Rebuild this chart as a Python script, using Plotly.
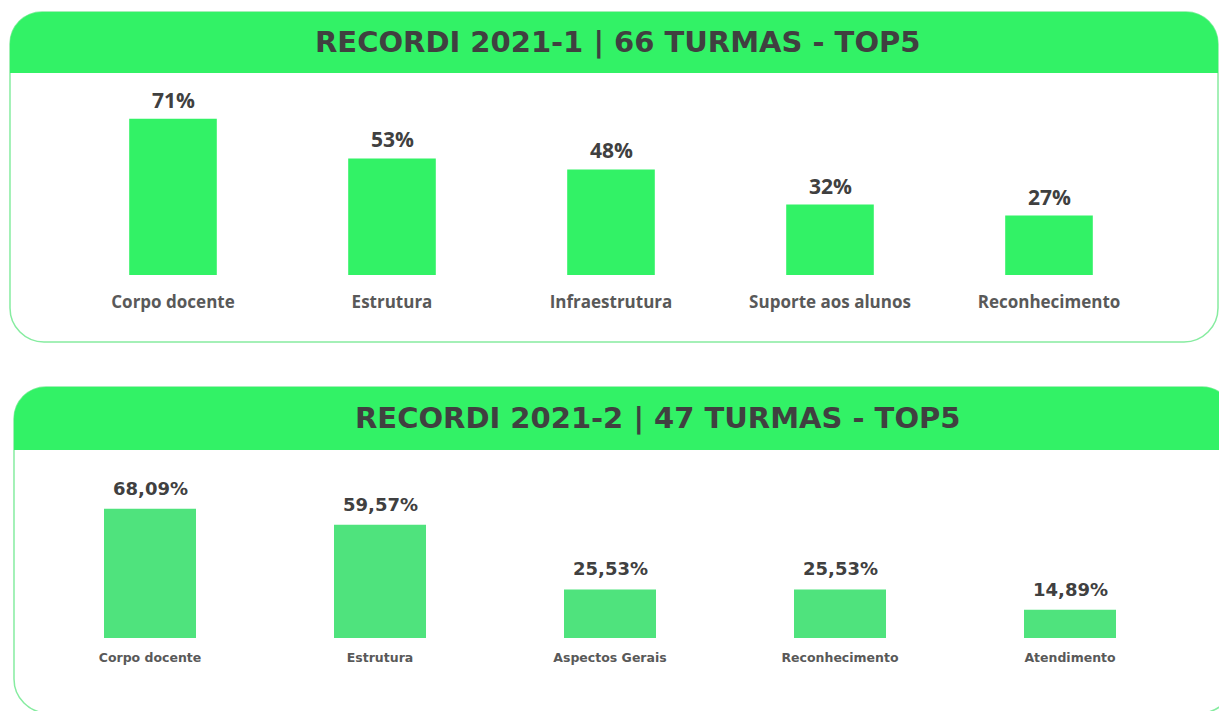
import plotly.graph_objects as go

# dados
categorias_1 = ["Corpo docente", "Estrutura", "Infraestrutura", "Suporte aos alunos", "Reconhecimento"]
valores_1 = [71, 53, 48, 32, 27]
titulo_1 = "RECORDI 2021-1 | 66 TURMAS - TOP5"

categorias_2 = ["Corpo docente", "Estrutura", "Aspectos Gerais", "Reconhecimento", "Atendimento"]
valores_2 = [68.09, 59.57, 25.53, 25.53, 14.89]
titulo_2 = "RECORDI 2021-2 | 47 TURMAS - TOP5"

W, H = 1219, 711
VERDE = "#32F266"
VERDE_BARRA_2 = "#4FE37D"
CONTORNO = "#86ECA0"
TEXTO = "#404040"
TEXTO_CAT = "#595959"


def px(x):
    return x / W


def py(y):
    return 1 - y / H


K = 0.5523


def rounded_path(x0, y0, x1, y1, r_top, r_bottom):
    """Retângulo com cantos arredondados, em pixels -> coordenadas paper."""
    pts = []
    pts.append(f"M {px(x0 + r_top)},{py(y0)}")
    pts.append(f"L {px(x1 - r_top)},{py(y0)}")
    if r_top:
        pts.append(
            f"C {px(x1 - r_top + K * r_top)},{py(y0)} {px(x1)},{py(y0 + r_top - K * r_top)} {px(x1)},{py(y0 + r_top)}"
        )
    pts.append(f"L {px(x1)},{py(y1 - r_bottom)}")
    if r_bottom:
        pts.append(
            f"C {px(x1)},{py(y1 - r_bottom + K * r_bottom)} {px(x1 - r_bottom + K * r_bottom)},{py(y1)} {px(x1 - r_bottom)},{py(y1)}"
        )
    pts.append(f"L {px(x0 + r_bottom)},{py(y1)}")
    if r_bottom:
        pts.append(
            f"C {px(x0 + r_bottom - K * r_bottom)},{py(y1)} {px(x0)},{py(y1 - r_bottom + K * r_bottom)} {px(x0)},{py(y1 - r_bottom)}"
        )
    pts.append(f"L {px(x0)},{py(y0 + r_top)}")
    if r_top:
        pts.append(
            f"C {px(x0)},{py(y0 + r_top - K * r_top)} {px(x0 + r_top - K * r_top)},{py(y0)} {px(x0 + r_top)},{py(y0)}"
        )
    pts.append("Z")
    return " ".join(pts)


def painel(x0, y0, x1, y_head, y1):
    return [
        dict(type="path", xref="paper", yref="paper", layer="below",
             path=rounded_path(x0, y0, x1, y1, 32, 34),
             fillcolor="white", line=dict(color=CONTORNO, width=1.5)),
        dict(type="path", xref="paper", yref="paper", layer="below",
             path=rounded_path(x0, y0, x1, y_head, 32, 0),
             fillcolor=VERDE, line=dict(width=0)),
    ]


fig = go.Figure()

fig.add_trace(go.Bar(
    x=categorias_1, y=valores_1, xaxis="x", yaxis="y",
    marker=dict(color=VERDE, line=dict(width=0)),
    showlegend=False, hoverinfo="x+y",
))
fig.add_trace(go.Bar(
    x=categorias_2, y=valores_2, xaxis="x2", yaxis="y2",
    marker=dict(color=VERDE_BARRA_2, line=dict(width=0)),
    showlegend=False, hoverinfo="x+y",
))

annotations = []
for c, v in zip(categorias_1, valores_1):
    annotations.append(dict(
        x=c, y=v, xref="x", yref="y", text=f"{v}%", showarrow=False,
        yanchor="bottom", yshift=3,
        font=dict(family="Open Sans", size=21, color=TEXTO, weight="bold"),
    ))
for c, v in zip(categorias_2, valores_2):
    annotations.append(dict(
        x=c, y=v, xref="x2", yref="y2", text=f"{v:.2f}".replace(".", ",") + "%",
        showarrow=False, yanchor="bottom", yshift=8,
        font=dict(family="DejaVu Sans", size=18, color=TEXTO, weight="bold"),
    ))

annotations.append(dict(
    x=px(617), y=py(42), xref="paper", yref="paper", text=titulo_1, showarrow=False,
    xanchor="center", yanchor="middle",
    font=dict(family="DejaVu Sans", size=29, color=TEXTO, weight="bold"),
))
annotations.append(dict(
    x=px(658), y=py(418), xref="paper", yref="paper", text=titulo_2, showarrow=False,
    xanchor="center", yanchor="middle",
    font=dict(family="DejaVu Sans", size=29, color=TEXTO, weight="bold"),
))

fig.update_layout(
    width=W, height=H,
    margin=dict(l=0, r=0, t=0, b=0),
    paper_bgcolor="white", plot_bgcolor="rgba(0,0,0,0)",
    bargap=0.6,
    shapes=painel(10, 12, 1218, 73, 342) + painel(14, 387, 1234, 450, 713),
    annotations=annotations,
    xaxis=dict(
        domain=[px(63.5), px(1158.5)], anchor="y",
        showline=False, showgrid=False, zeroline=False,
        ticks="outside", ticklen=12, tickcolor="rgba(0,0,0,0)",
        tickfont=dict(family="Open Sans", size=17, color=TEXTO_CAT, weight="bold"),
        fixedrange=True,
    ),
    yaxis=dict(
        domain=[py(275), py(99)], anchor="x", range=[0, 80],
        visible=False, fixedrange=True,
    ),
    xaxis2=dict(
        domain=[px(35), px(1185)], anchor="y2",
        showline=False, showgrid=False, zeroline=False,
        ticks="outside", ticklen=8, tickcolor="rgba(0,0,0,0)",
        tickfont=dict(family="DejaVu Sans", size=12.5, color=TEXTO_CAT, weight="bold"),
        fixedrange=True,
    ),
    yaxis2=dict(
        domain=[py(638), py(486)], anchor="x2", range=[0, 80],
        visible=False, fixedrange=True,
    ),
)

fig.write_html(
    "out.html",
    config={"displayModeBar": False},
    post_script="document.body.style.margin='0';document.body.style.overflow='hidden';",
)
